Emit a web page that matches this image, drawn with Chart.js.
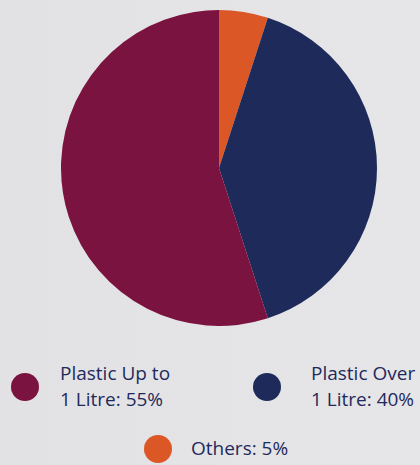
<!DOCTYPE html>
<html>
<head>
<meta charset="utf-8">
<script src="https://cdn.jsdelivr.net/npm/chart.js@4"></script>
<style>
html,body{margin:0;padding:0;}
body{width:420px;height:465px;background:linear-gradient(90deg,#e2e2e5,#e6e6e9);position:relative;overflow:hidden;font-family:"Open Sans",sans-serif;color:#1f2a5a;}
#wrap{position:absolute;left:61px;top:10px;width:316px;height:316px;}
.item{position:absolute;font-size:19px;line-height:26px;white-space:nowrap;}
.dot{position:absolute;width:28px;height:28px;border-radius:50%;}
</style>
</head>
<body>
<div id="wrap"><canvas id="pie"></canvas></div>
<div id="legend"></div>
<script>
let labels = ["Others", "Plastic Over 1 Litre", "Plastic Up to 1 Litre"];
let values = [5, 40, 55];
let colors = ["#dc5726", "#1e2a5a", "#7b1340"];

let legendText = [
"Others: 5%",
"Plastic Over<br>1 Litre: 40%",
"Plastic Up to<br>1 Litre: 55%"
];
let legendPos = [
{dx:144, dy:435, tx:191, ty:435},
{dx:253, dy:373, tx:311, ty:360},
{dx:11, dy:373, tx:60, ty:360}
];

let html = "";
for(let i=0;i<labels.length;i++){
html += '<div class="dot" style="left:'+legendPos[i].dx+'px;top:'+legendPos[i].dy+'px;background:'+colors[i]+'"></div>';
html += '<div class="item" style="left:'+legendPos[i].tx+'px;top:'+legendPos[i].ty+'px">'+legendText[i]+'</div>';
}
document.getElementById("legend").innerHTML = html;

let ctx = document.getElementById("pie").getContext("2d");
new Chart(ctx,{
type:'pie',
data:{
labels:labels,
datasets:[{
data:values,
backgroundColor:colors,
borderWidth:0
}]
},
options:{
responsive:true,
maintainAspectRatio:false,
animation:false,
plugins:{legend:{display:false},tooltip:{enabled:false}}
}
});
</script>
</body>
</html>
